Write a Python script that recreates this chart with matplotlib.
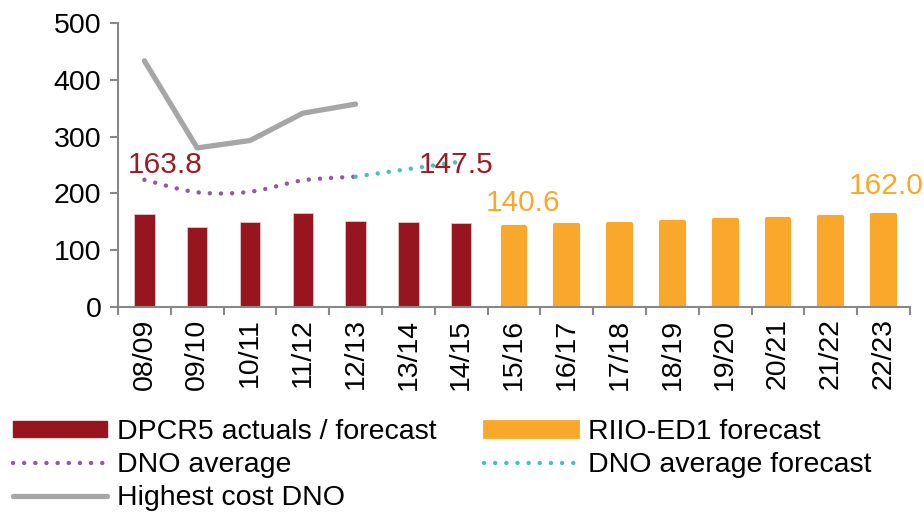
import matplotlib
matplotlib.use("Agg")
import matplotlib.pyplot as plt
from matplotlib.path import Path
from matplotlib.patches import PathPatch, Patch
from matplotlib.lines import Line2D
import numpy as np

plt.rcParams['font.family'] = ['Liberation Sans', 'DejaVu Sans']

categories = ["08/09", "09/10", "10/11", "11/12", "12/13", "13/14", "14/15",
              "15/16", "16/17", "17/18", "18/19", "19/20", "20/21", "21/22", "22/23"]
dpcr5 = [163.8, 141, 150, 165, 152, 149.5, 147.5]
riio = [140.6, 144, 147, 150, 153.5, 156, 159, 162.0]
dno_avg = [224, 202, 203, 223, 229.5]
dno_fc = [229.5, 243, 256]
highest = [433, 280, 293, 341, 357]

RED = "#97151F"
ORANGE = "#F9A82B"
PURPLE = "#8E5B9B"
TEAL = "#4CC0B6"
GREY = "#A6A6A6"
LABRED = "#9B1C24"

fig = plt.figure(figsize=(9.24, 5.13), dpi=100)
ax = fig.add_axes([118/924, 1-307.3/513, (910-118)/924, (307.3-22.7)/513])

n_red = len(dpcr5)
x_red = np.arange(n_red)
x_or = np.arange(n_red, n_red + len(riio))

ax.bar(x_red, dpcr5, width=0.39, color=RED, edgecolor="#E9C7C9", linewidth=0.6, zorder=2)
ax.bar(x_or, riio, width=0.43, color=ORANGE, edgecolor=ORANGE, linewidth=3,
       joinstyle='round', zorder=2)


def smooth_path(xs, ys):
    xs = np.asarray(xs, float)
    ys = np.asarray(ys, float)
    pts = np.column_stack([xs, ys])
    verts = [pts[0]]
    codes = [Path.MOVETO]
    n = len(pts)
    for i in range(n - 1):
        p0 = pts[i - 1] if i > 0 else pts[i]
        p1 = pts[i]
        p2 = pts[i + 1]
        p3 = pts[i + 2] if i + 2 < n else pts[i + 1]
        c1 = p1 + (p2 - p0) / 6.0
        c2 = p2 - (p3 - p1) / 6.0
        verts += [c1, c2, p2]
        codes += [Path.CURVE4] * 3
    return Path(verts, codes)


dot_style = dict(fill=False, linewidth=3.2, linestyle=(0, (0.01, 2.5)),
                 capstyle='round', zorder=3)
ax.add_patch(PathPatch(smooth_path(np.arange(len(dno_avg)), dno_avg),
                       edgecolor=PURPLE, **dot_style))
ax.add_patch(PathPatch(smooth_path(np.arange(4, 4 + len(dno_fc)), dno_fc),
                       edgecolor=TEAL, **dot_style))

ax.plot(np.arange(len(highest)), highest, color=GREY, linewidth=3.8,
        solid_capstyle='round', solid_joinstyle='round', zorder=3)

LFS = 21.5
ax.text(0.39, 250, "163.8", color=LABRED, fontsize=LFS, ha='center', va='center', zorder=4)
ax.text(5.9, 250, "147.5", color=LABRED, fontsize=LFS, ha='center', va='center', zorder=4)
ax.text(7.17, 183, "140.6", color=ORANGE, fontsize=LFS, ha='center', va='center', zorder=4)
ax.text(14.05, 213, "162.0", color=ORANGE, fontsize=LFS, ha='center', va='center', zorder=4)

TFS = 20.5
ax.set_xlim(-0.5, len(categories) - 0.5)
ax.set_ylim(0, 500)
ax.set_yticks([0, 100, 200, 300, 400, 500])
ax.set_xticks(np.arange(len(categories)))
ax.set_xticklabels(categories, rotation=90, fontsize=TFS)
ax.set_xticks(np.arange(-0.5, len(categories)), minor=True)
ax.tick_params(axis='x', which='major', length=0, pad=8)
ax.tick_params(axis='x', which='minor', length=6, width=1.5, color="#888888", direction='out')
ax.tick_params(axis='y', length=6, width=1.5, color="#888888", labelsize=TFS, pad=6)
for s in ['top', 'right']:
    ax.spines[s].set_visible(False)
for s in ['left', 'bottom']:
    ax.spines[s].set_color("#888888")
    ax.spines[s].set_linewidth(1.5)

handles = [
    Patch(facecolor=RED, edgecolor=RED),
    Line2D([], [], color=PURPLE, linewidth=3.2, linestyle=(0, (0.01, 2.5)), dash_capstyle='round'),
    Line2D([], [], color=GREY, linewidth=3.8, solid_capstyle='round'),
    Patch(facecolor=ORANGE, edgecolor=ORANGE, linewidth=2, joinstyle='round'),
    Line2D([], [], color=TEAL, linewidth=3.2, linestyle=(0, (0.01, 2.5)), dash_capstyle='round'),
]
labels = ["DPCR5 actuals / forecast", "DNO average", "Highest cost DNO",
          "RIIO-ED1 forecast", "DNO average forecast"]
fig.legend(handles, labels, loc='upper left', bbox_to_anchor=(13/924, 1 - 419/513),
           ncol=2, frameon=False, fontsize=TFS, handlelength=3.3, handleheight=0.5,
           handletextpad=0.35, columnspacing=1.67, labelspacing=0.24, borderpad=0,
           borderaxespad=0)

fig.savefig("out.png", dpi=100)
